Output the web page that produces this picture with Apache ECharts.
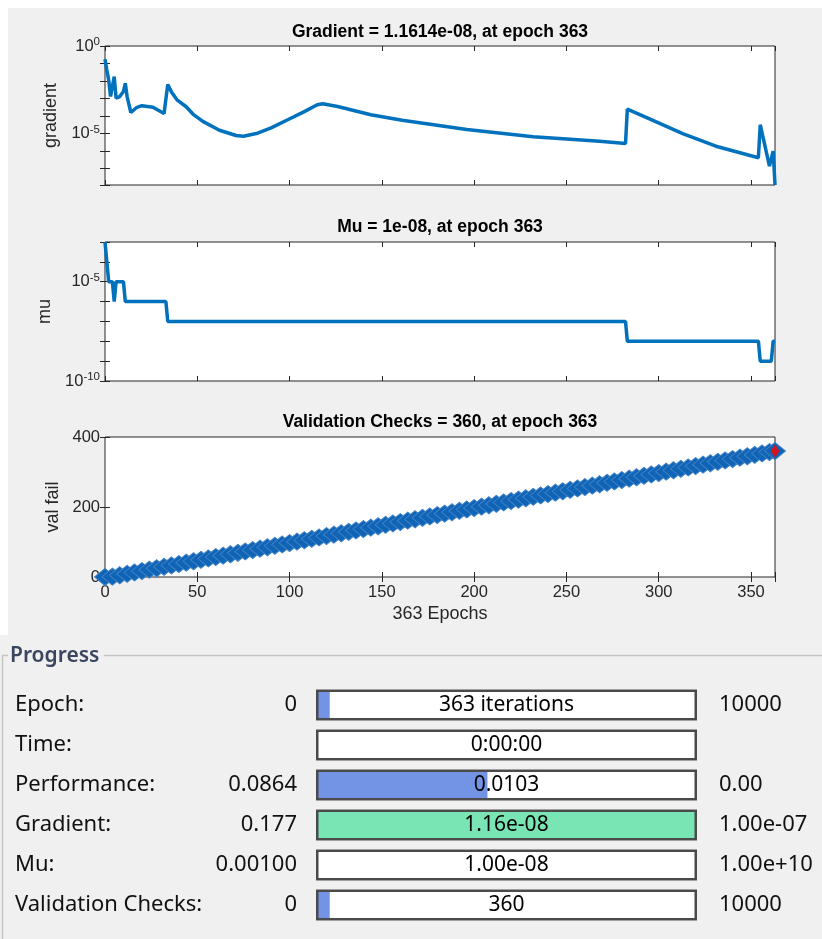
<!DOCTYPE html>
<html>
<head>
<meta charset="utf-8">
<script src="https://cdn.jsdelivr.net/npm/echarts@6/dist/echarts.min.js"></script>
<style>
html,body{margin:0;padding:0;background:#fff;}
#c{width:822px;height:939px;}
</style>
</head>
<body>
<div id="c"></div>
<script>
// ---- data ----
const gradEpochs = [0,1,2,3,4,5,6,8,10,11,12,14,17,20,26,32,34,36,39,44,48,53,62,71,75,82,90,99,108,115,118,126,144,161,196,232,268,282,283,295,313,331,354,355,360,362,363];
const gradValues = [0.177,4.2e-2,1.15e-2,1.3e-3,1.1e-3,1.8e-2,1.05e-3,1.3e-3,2.5e-3,7.4e-3,1.26e-3,1.6e-4,3.0e-4,3.9e-4,3.2e-4,1.4e-4,6.3e-3,2.4e-3,8.5e-4,3.4e-4,1.2e-4,5.0e-5,1.55e-5,7.8e-6,7.1e-6,1.0e-5,2.1e-5,6.2e-5,1.8e-4,4.4e-4,5.0e-4,3.5e-4,1.2e-4,5.8e-5,1.7e-5,6.5e-6,3.7e-6,2.7e-6,2.5e-4,6.9e-5,1.0e-5,1.9e-6,4.2e-7,3.2e-5,1.4e-7,1.0e-6,1.1614e-8];

const muEpochs = [0,1,2,4,5,6,10,11,33,34,282,283,354,355,361,362,363];
const muValues = [1e-3,1e-4,1e-5,1e-5,1e-6,1e-5,1e-5,1e-6,1e-6,1e-7,1e-7,1e-8,1e-8,1e-9,1e-9,1e-8,1e-8];

const valEpochs = [0,4,8,12,16,20,24,28,32,36,40,44,48,52,56,60,64,68,72,76,80,84,88,92,96,100,104,108,112,116,120,124,128,132,136,140,144,148,152,156,160,164,168,172,176,180,184,188,192,196,200,204,208,212,216,220,224,228,232,236,240,244,248,252,256,260,264,268,272,276,280,284,288,292,296,300,304,308,312,316,320,324,328,332,336,340,344,348,352,356,360,363];
const valFail = [0,1,5,9,13,17,21,25,29,33,37,41,45,49,53,57,61,65,69,73,77,81,85,89,93,97,101,105,109,113,117,121,125,129,133,137,141,145,149,153,157,161,165,169,173,177,181,185,189,193,197,201,205,209,213,217,221,225,229,233,237,241,245,249,253,257,261,265,269,273,277,281,285,289,293,297,301,305,309,313,317,321,325,329,333,337,341,345,349,353,357,360];
const bestPoint = [363, 360];

const plotTitles = ['Gradient = 1.1614e-08, at epoch 363', 'Mu = 1e-08, at epoch 363', 'Validation Checks = 360, at epoch 363'];
const yNames = ['gradient', 'mu', 'val fail'];
const xName = '363 Epochs';
const gradLabelExp = [0, -5];
const muLabelExp = [-5, -10];

const progressNames = ['Epoch:', 'Time:', 'Performance:', 'Gradient:', 'Mu:', 'Validation Checks:'];
const progressStart = ['0', '', '0.0864', '0.177', '0.00100', '0'];
const progressText = ['363 iterations', '0:00:00', '0.0103', '1.16e-08', '1.00e-08', '360'];
const progressEnd = ['10000', '', '0.00', '1.00e-07', '1.00e+10', '10000'];
const progressFill = [0.036, 0, 0.45, 1, 0, 0.036];
const progressColor = ['#7393e4', '#7393e4', '#7393e4', '#79e5b5', '#7393e4', '#7393e4'];

// ---- styling ----
const FONT = 'Liberation Sans, Arial, Helvetica, sans-serif';
const PFONT = 'Noto Sans, Open Sans, sans-serif';
const AX = '#262626';
const LINE = '#0072bd';
const TICKFS = 16.5;
const NAMEFS = 18;

const chart = echarts.init(document.getElementById('c'), null, {width: 822, height: 939});

const gridTops = [46, 242, 437];
const gridHeights = [139, 139, 140];

function logLabel(shown) {
  return function (v) {
    const e = Math.log10(v);
    const r = Math.round(e);
    if (Math.abs(e - r) > 1e-6 || shown.indexOf(r) < 0) return '';
    return '{b|10}{s|' + r + '}';
  };
}
const supRich = {
  b: {fontSize: TICKFS, color: AX, fontFamily: FONT},
  s: {fontSize: 11.5, color: AX, fontFamily: FONT, padding: [0, 0, 8, 0]}
};
const tick = {show: true, inside: true, length: 5, lineStyle: {color: AX, width: 1}};

function xAx(g, pos, labels) {
  const a = {
    type: 'value', gridIndex: g, position: pos, min: 0, max: 363, interval: 50,
    axisLine: {show: false}, axisTick: tick, splitLine: {show: false},
    axisLabel: {show: labels, color: AX, fontSize: TICKFS, fontFamily: FONT, margin: 7,
      formatter: v => (v % 50 === 0 ? String(v) : '')}
  };
  if (labels) {
    a.name = xName; a.nameLocation = 'middle'; a.nameGap = 28;
    a.nameTextStyle = {color: AX, fontSize: NAMEFS, fontFamily: FONT};
  }
  return a;
}
function yLog(g, pos, min, max, shown, name, gap) {
  const a = {
    type: 'log', logBase: 10, gridIndex: g, position: pos, min: min, max: max,
    axisLine: {show: false}, axisTick: tick, splitLine: {show: false},
    axisLabel: {show: pos === 'left', formatter: logLabel(shown), margin: 5, rich: supRich}
  };
  if (name) {
    a.name = name; a.nameLocation = 'middle'; a.nameGap = gap;
    a.nameTextStyle = {color: AX, fontSize: NAMEFS, fontFamily: FONT};
  }
  return a;
}
function yVal(g, pos, name, gap) {
  const a = {
    type: 'value', gridIndex: g, position: pos, min: 0, max: 400, interval: 200,
    axisLine: {show: false}, axisTick: tick, splitLine: {show: false},
    axisLabel: {show: pos === 'left', color: AX, fontSize: TICKFS, fontFamily: FONT, margin: 5}
  };
  if (name) {
    a.name = name; a.nameLocation = 'middle'; a.nameGap = gap;
    a.nameTextStyle = {color: AX, fontSize: NAMEFS, fontFamily: FONT};
  }
  return a;
}

const grids = gridTops.map((t, i) => ({
  left: 105, width: 670, top: t, height: gridHeights[i], show: true,
  backgroundColor: '#ffffff', borderColor: AX, borderWidth: 1,
  containLabel: false, outerBoundsMode: 'none'
}));
grids.push({left: 316, width: 381, top: 685, height: 240, show: false, containLabel: false, outerBoundsMode: 'none'});

const titleY = [23, 218, 413];
const titles = plotTitles.map((t, i) => ({
  text: t, left: 440, top: titleY[i], textAlign: 'center', padding: 0,
  textStyle: {fontSize: 17.5, fontWeight: 'bold', color: '#000', fontFamily: FONT}
}));

const ones = progressNames.map(() => 1);

const option = {
  animation: false,
  backgroundColor: '#f0f0f0',
  title: titles,
  grid: grids,
  xAxis: [
    xAx(0, 'bottom', false), xAx(0, 'top', false),
    xAx(1, 'bottom', false), xAx(1, 'top', false),
    xAx(2, 'bottom', true), xAx(2, 'top', false),
    {type: 'value', gridIndex: 3, min: 0, max: 1, show: false}
  ],
  yAxis: [
    yLog(0, 'left', 1.1614e-8, 1, gradLabelExp, yNames[0], 38),
    yLog(0, 'right', 1.1614e-8, 1, gradLabelExp),
    yLog(1, 'left', 1e-10, 1e-3, muLabelExp, yNames[1], 46),
    yLog(1, 'right', 1e-10, 1e-3, muLabelExp),
    yVal(2, 'left', yNames[2], 37),
    yVal(2, 'right'),
    {type: 'category', gridIndex: 3, data: progressNames, inverse: true,
      axisLine: {show: false}, axisTick: {show: false}, splitLine: {show: false},
      axisLabel: {interval: 0, margin: 19,
        formatter: (v, i) => '{n|' + v + '}{v|' + progressStart[i] + '}',
        rich: {
          n: {width: 207, align: 'left', fontSize: 22, fontFamily: PFONT, color: '#111'},
          v: {width: 75, align: 'right', fontSize: 22, fontFamily: PFONT, color: '#111'}
        }}},
    {type: 'category', gridIndex: 3, data: progressNames, inverse: true, position: 'right',
      axisLine: {show: false}, axisTick: {show: false}, splitLine: {show: false},
      axisLabel: {interval: 0, margin: 22, formatter: (v, i) => progressEnd[i],
        fontSize: 22, fontFamily: PFONT, color: '#111'}},
    {type: 'category', gridIndex: 3, data: progressNames, inverse: true, show: false}
  ],
  graphic: [
    {type: 'rect', shape: {x: 0, y: 0, width: 822, height: 8}, style: {fill: '#ffffff'}, silent: true},
    {type: 'rect', shape: {x: 0, y: 0, width: 8, height: 635}, style: {fill: '#ffffff'}, silent: true},
    {type: 'line', shape: {x1: 104, y1: 655.5, x2: 822, y2: 655.5}, style: {stroke: '#c4c4c4', lineWidth: 1.5}, silent: true},
    {type: 'line', shape: {x1: 2.5, y1: 655, x2: 2.5, y2: 939}, style: {stroke: '#c4c4c4', lineWidth: 1.5}, silent: true},
    {type: 'line', shape: {x1: 2, y1: 655.5, x2: 8, y2: 655.5}, style: {stroke: '#c4c4c4', lineWidth: 1.5}, silent: true},
    {type: 'text', x: 10, y: 656, style: {text: 'Progress', fill: '#3a4660', font: '600 21px Noto Sans, Open Sans, sans-serif', textVerticalAlign: 'middle', verticalAlign: 'middle'}, silent: true}
  ],
  series: [
    {type: 'line', xAxisIndex: 0, yAxisIndex: 0, data: gradEpochs.map((e, i) => [e, gradValues[i]]),
      showSymbol: false, symbol: 'none', clip: false, lineStyle: {color: LINE, width: 3.5}, z: 3},
    {type: 'line', xAxisIndex: 2, yAxisIndex: 2, data: muEpochs.map((e, i) => [e, muValues[i]]),
      showSymbol: false, symbol: 'none', clip: false, lineStyle: {color: LINE, width: 3.5}, z: 3},
    {type: 'line', xAxisIndex: 4, yAxisIndex: 4, data: valEpochs.map((e, i) => [e, valFail[i]]),
      symbol: 'diamond', symbolSize: [21, 17], showAllSymbol: true, clip: false,
      lineStyle: {color: '#0e5fb0', width: 1},
      itemStyle: {color: '#1064b5', borderColor: '#3f80c8', borderWidth: 1}, z: 3},
    {type: 'scatter', xAxisIndex: 4, yAxisIndex: 4, data: [bestPoint], symbol: 'diamond',
      symbolSize: [9, 13], clip: false, itemStyle: {color: '#ff0000'}, z: 5},
    {type: 'bar', xAxisIndex: 6, yAxisIndex: 6, data: ones, barWidth: 31, barGap: '-100%',
      itemStyle: {color: '#ffffff'}, silent: true, z: 2},
    {type: 'bar', xAxisIndex: 6, yAxisIndex: 8,
      data: progressFill.map((f, i) => ({value: f, itemStyle: {color: progressColor[i]}})),
      barWidth: 27, silent: true, z: 3},
    {type: 'bar', xAxisIndex: 6, yAxisIndex: 6, data: ones, barWidth: 31, barGap: '-100%',
      itemStyle: {color: 'rgba(0,0,0,0)', borderColor: '#4a4a4a', borderWidth: 2.5}, silent: true, z: 4,
      label: {show: true, position: 'inside', formatter: p => progressText[p.dataIndex],
        fontSize: 21, fontFamily: PFONT, color: '#000'}}
  ]
};
chart.setOption(option);
</script>
</body>
</html>
